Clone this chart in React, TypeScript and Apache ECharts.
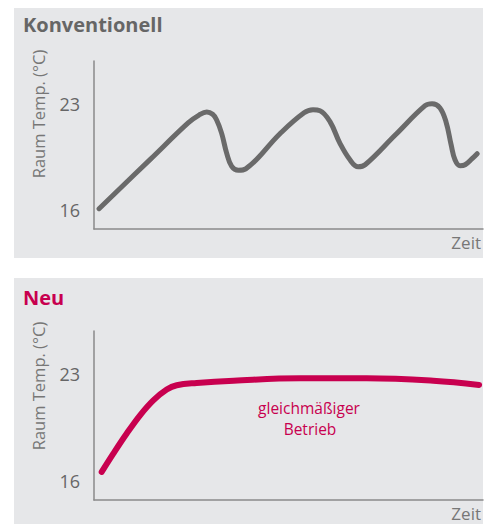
import React, { useEffect, useRef } from "react";
import * as echarts from "echarts";

const titles = ["Konventionell", "Neu"];
const yAxisName = "Raum Temp. (°C)";
const xAxisName = "Zeit";
const tickValues = [16, 23];
const annotationLines = ["gleichmäßiger", "Betrieb"];

const conventionalX = [1.3, 14.4, 24.2, 27.0, 29.0, 30.5, 31.5, 32.8, 34.1, 35.4, 37.1, 39.0, 47.8, 54.0, 56.3, 58.1, 60.7, 63.2, 65.8, 67.9, 69.7, 77.5, 85.1, 86.9, 88.9, 90.5, 91.8, 92.8, 94.1, 95.4, 97.2, 98.5];
const conventionalY = [16.07, 19.31, 21.73, 22.25, 22.45, 22.3, 21.94, 21.06, 19.74, 18.86, 18.6, 18.7, 21.02, 22.4, 22.6, 22.54, 21.8, 20.4, 19.3, 18.84, 18.97, 20.95, 22.87, 23.0, 22.74, 21.8, 20.3, 19.3, 18.9, 18.97, 19.37, 19.7];

const newX = [1.98, 4.96, 8.41, 11.83, 15.24, 18.69, 21.26, 26.4, 35.9, 53.0, 70.1, 87.2, 99.0];
const newY = [16.57, 17.77, 19.09, 20.29, 21.27, 21.98, 22.26, 22.41, 22.56, 22.72, 22.72, 22.56, 22.28];

const GRAY = "#6a6a6a";
const RED = "#c8004f";
const FONT = "'Open Sans', 'Noto Sans', sans-serif";

export default function App() {
  const ref = useRef<HTMLDivElement>(null);
  useEffect(() => {
    const chart = echarts.init(ref.current!, null, { renderer: "svg" });
    const pairs = (xs: number[], ys: number[]) => xs.map((x, i) => [x, ys[i]]);
    const yAxisCommon = {
      type: "value",
      min: 14.73,
      max: 25.82,
      splitLine: { show: false },
      axisTick: { show: false },
      axisLine: { show: true, lineStyle: { color: "#8a8a8a", width: 1.5 } },
      axisLabel: { customValues: tickValues, color: "#666", fontSize: 18, fontFamily: FONT, margin: 14 },
    };
    const xAxisCommon = {
      type: "value",
      min: 0,
      max: 100,
      splitLine: { show: false },
      axisTick: { show: false },
      axisLabel: { show: false },
      axisLine: { show: true, onZero: false, lineStyle: { color: "#8a8a8a", width: 1.5 } },
    };
    chart.setOption({
      animation: false,
      grid: [
        { left: 94, right: 8, top: 61, height: 168 },
        { left: 94, right: 8, top: 331, height: 169 },
      ],
      xAxis: [
        { ...xAxisCommon, gridIndex: 0 },
        { ...xAxisCommon, gridIndex: 1 },
      ],
      yAxis: [
        { ...yAxisCommon, gridIndex: 0 },
        { ...yAxisCommon, gridIndex: 1 },
      ],
      graphic: [
        { type: "rect", z: -10, shape: { x: 14, y: 8, width: 469, height: 250 }, style: { fill: "#e6e7e9" } },
        { type: "rect", z: -10, shape: { x: 14, y: 278, width: 469, height: 246 }, style: { fill: "#e6e7e9" } },
        { type: "text", x: 23, y: 24, style: { text: titles[0], font: `bold 20px ${FONT}`, fill: "#666", verticalAlign: "middle" } },
        { type: "text", x: 23, y: 297, style: { text: titles[1], font: `bold 20px ${FONT}`, fill: RED, verticalAlign: "middle" } },
        { type: "text", x: 38, y: 114, rotation: Math.PI / 2, style: { text: yAxisName, font: `16.5px ${FONT}`, fill: "#777", align: "center", verticalAlign: "middle" } },
        { type: "text", x: 38, y: 386, rotation: Math.PI / 2, style: { text: yAxisName, font: `16.5px ${FONT}`, fill: "#777", align: "center", verticalAlign: "middle" } },
        { type: "text", x: 481, y: 242, style: { text: xAxisName, font: `17px ${FONT}`, fill: "#777", align: "right", verticalAlign: "middle" } },
        { type: "text", x: 481, y: 513, style: { text: xAxisName, font: `17px ${FONT}`, fill: "#777", align: "right", verticalAlign: "middle" } },
        { type: "text", x: 309, y: 408, style: { text: annotationLines[0], font: `15.5px ${FONT}`, lineHeight: 17, fill: RED, align: "center", verticalAlign: "middle" } },
        { type: "text", x: 310, y: 429, style: { text: annotationLines[1], font: `15.5px ${FONT}`, lineHeight: 17, fill: RED, align: "center", verticalAlign: "middle" } },
      ],
      series: [
        {
          type: "line", xAxisIndex: 0, yAxisIndex: 0, smooth: 0.4, symbol: "none",
          lineStyle: { color: GRAY, width: 5, cap: "round" },
          data: pairs(conventionalX, conventionalY),
        },
        {
          type: "line", xAxisIndex: 1, yAxisIndex: 1, smooth: 0.4, symbol: "none",
          lineStyle: { color: RED, width: 6, cap: "round" },
          data: pairs(newX, newY),
        },
      ],
    });
    return () => chart.dispose();
  }, []);
  return <div ref={ref} style={{ position: "fixed", left: 0, top: 0, width: 491, height: 524, background: "#fff" }} />;
}
